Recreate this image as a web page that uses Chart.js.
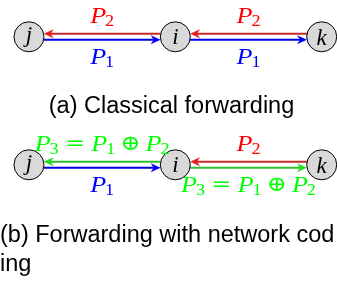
<!DOCTYPE html>
<html>
<head>
<meta charset="utf-8">
<script src="https://cdn.jsdelivr.net/npm/chart.js@4"></script>
<style>
  html, body { margin: 0; padding: 0; background: #fff; }
  canvas { display: block; }
</style>
</head>
<body>
<canvas id="forwardingChart" width="337" height="282"></canvas>
<script>
// Relay line, left to right
const nodeNames = ['j', 'i', 'k']
// One row per panel
const panelRows = [0, 1]
const captionA = ['(a) Classical forwarding']
const captionB = ['(b) Forwarding with network cod', 'ing']

// Packets on each hop (j-i, i-k). Upper lane flows right to left, lower lane left to right
const upperPacketsA = ['P_2', 'P_2']
const lowerPacketsA = ['P_1', 'P_1']
const upperPacketsB = ['P_3 = P_1 ⊕ P_2', 'P_2']
const lowerPacketsB = ['P_1', 'P_3 = P_1 ⊕ P_2']

const textColors = { P_1: '#0000ff', P_2: '#ff0000', P_3: '#00ff00' }
const lineColors = { P_1: '#0000e6', P_2: '#c42a2a', P_3: '#2fbf2f' }
const headColors = { P_1: '#0000ff', P_2: '#e82020', P_3: '#22dd22' }

const NODE_RADIUS = 15
const LANE_GAP = 3

const hops = []
;[[upperPacketsA, lowerPacketsA], [upperPacketsB, lowerPacketsB]].forEach(([upper, lower], row) => {
  upper.forEach((label, h) => hops.push({ row, from: h + 1, to: h, lane: -1, label }))
  lower.forEach((label, h) => hops.push({ row, from: h, to: h + 1, lane: 1, label }))
})

function drawArrow(ctx, x1, x2, y, lineColor, headColor) {
  const dir = Math.sign(x2 - x1)
  const len = 10, half = 4.5, notch = 7
  ctx.strokeStyle = lineColor
  ctx.lineWidth = 2
  ctx.beginPath()
  ctx.moveTo(x1, y)
  ctx.lineTo(x2 - dir * notch, y)
  ctx.stroke()
  ctx.fillStyle = headColor
  ctx.beginPath()
  ctx.moveTo(x2, y)
  ctx.lineTo(x2 - dir * len, y - half)
  ctx.lineTo(x2 - dir * notch, y)
  ctx.lineTo(x2 - dir * len, y + half)
  ctx.closePath()
  ctx.fill()
}

const mathFont = 'italic 23px "Liberation Serif", "DejaVu Serif", serif'
const subFont = '16px "Liberation Serif", "DejaVu Serif", serif'
const opFont = '21px "DejaVu Serif", serif'
const opSpace = { '=': 5.5, '⊕': 4.5 }
const mathStretch = 1.14

function mathPieces(ctx, label) {
  return label.split(' ').map(tok => {
    if (tok.includes('_')) {
      const [base, sub] = tok.split('_')
      ctx.font = mathFont
      const bw = ctx.measureText(base).width
      ctx.font = subFont
      const sw = ctx.measureText(sub).width
      return { base, sub, bw, width: bw + sw - 1 }
    }
    ctx.font = opFont
    const pad = opSpace[tok] || 4
    return { op: tok, pad, width: ctx.measureText(tok).width + 2 * pad }
  })
}

function drawMath(ctx, label, cx, baseline, color) {
  const pieces = mathPieces(ctx, label)
  const total = pieces.reduce((s, p) => s + p.width, 0)
  ctx.save()
  ctx.translate(cx, baseline)
  ctx.scale(mathStretch, 1)
  ctx.fillStyle = color
  ctx.textBaseline = 'alphabetic'
  ctx.textAlign = 'left'
  let x = -total / 2
  pieces.forEach(p => {
    if (p.op) {
      ctx.font = opFont
      ctx.fillText(p.op, x + p.pad, -1)
    } else {
      ctx.font = mathFont
      ctx.fillText(p.base, x, 0)
      ctx.font = subFont
      ctx.fillText(p.sub, x + p.bw - 1, 3)
    }
    x += p.width
  })
  ctx.restore()
}

const relayDiagram = {
  id: 'relayDiagram',
  beforeDatasetsDraw(chart) {
    const { ctx, scales: { x, y } } = chart
    const edge = Math.sqrt(NODE_RADIUS * NODE_RADIUS - LANE_GAP * LANE_GAP)
    ctx.save()
    hops.forEach(hop => {
      const key = hop.label.split(' ')[0]
      const x1 = x.getPixelForValue(hop.from)
      const x2 = x.getPixelForValue(hop.to)
      const dir = Math.sign(x2 - x1)
      const ly = y.getPixelForValue(hop.row) + hop.lane * LANE_GAP
      drawArrow(ctx, x1 + dir * edge, x2 - dir * edge, ly, lineColors[key], headColors[key])
    })
    ctx.restore()
  },
  afterDatasetsDraw(chart) {
    const { ctx, scales: { x, y } } = chart
    ctx.save()
    // node names
    ctx.fillStyle = '#000'
    ctx.font = mathFont
    ctx.textAlign = 'center'
    panelRows.forEach(row => {
      nodeNames.forEach((name, i) => {
        const m = ctx.measureText(name)
        const cy = y.getPixelForValue(row)
        const base = cy + (m.actualBoundingBoxAscent - m.actualBoundingBoxDescent) / 2
        ctx.fillText(name, x.getPixelForValue(i), base)
      })
    })
    // packet labels above / below each hop
    hops.forEach(hop => {
      const key = hop.label.split(' ')[0]
      const cx = (x.getPixelForValue(hop.from) + x.getPixelForValue(hop.to)) / 2
      const cy = y.getPixelForValue(hop.row)
      const base = hop.lane < 0 ? cy - 14 : cy + 27
      drawMath(ctx, hop.label, cx, base, textColors[key])
    })
    // captions
    ctx.fillStyle = '#000'
    ctx.font = '23.5px "Liberation Sans", Arial, sans-serif'
    ctx.textAlign = 'center'
    ctx.fillText(captionA[0], 171.5, 113)
    ctx.textAlign = 'left'
    captionB.forEach((line, n) => ctx.fillText(line, 0, 242 + n * 29))
    ctx.restore()
  }
}

new Chart(document.getElementById('forwardingChart'), {
  type: 'scatter',
  data: {
    datasets: panelRows.map(row => ({
      data: nodeNames.map((name, i) => ({ x: i, y: row })),
      pointRadius: NODE_RADIUS,
      pointHoverRadius: NODE_RADIUS,
      backgroundColor: '#d9d9d9',
      borderColor: '#000',
      borderWidth: 1,
      clip: false
    }))
  },
  options: {
    responsive: false,
    animation: false,
    devicePixelRatio: 1,
    events: [],
    layout: { padding: 0, autoPadding: false },
    plugins: {
      legend: { display: false },
      tooltip: { enabled: false }
    },
    scales: {
      x: { type: 'linear', display: false, min: -0.198, max: 2.1045 },
      y: { type: 'linear', display: false, reverse: true, min: -0.2875, max: 1.9156 }
    }
  },
  plugins: [relayDiagram]
})
</script>
</body>
</html>
